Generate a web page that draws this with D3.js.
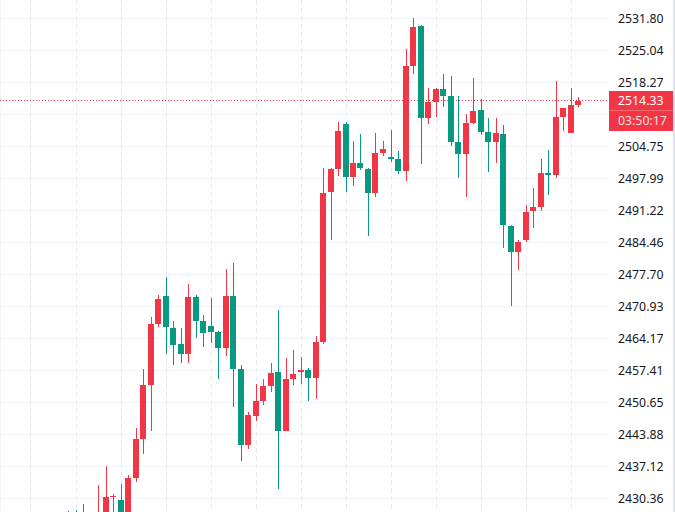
<!DOCTYPE html>
<html>
<head>
<meta charset="utf-8">
<script src="https://cdn.jsdelivr.net/npm/d3@7/dist/d3.min.js"></script>
<style>
  html, body { margin: 0; padding: 0; background: #ffffff; }
  svg { display: block; }
  text { font-family: "Noto Sans", "Open Sans", sans-serif; }
</style>
</head>
<body>
<svg id="chart" width="675" height="512"></svg>
<script>
// ---- data (bars are consecutive periods, oldest first) ----
const opens = [2424.72,2427.04,2426.83,2424.51,2424.93,2426.20,2430.63,2430.00,2426.83,2434.65,
  2442.89,2454.30,2467.19,2473.11,2466.35,2462.97,2460.85,2472.90,2467.83,2466.77,
  2465.50,2462.12,2473.11,2457.68,2441.62,2447.75,2450.92,2454.09,2457.05,2444.58,
  2455.57,2457.05,2457.47,2455.78,2463.39,2495.09,2499.95,2509.46,2498.26,2501.22,
  2499.95,2494.88,2503.33,2502.49,2502.07,2499.53,2521.72,2530.17,2510.73,2514.11,
  2516.86,2515.38,2505.66,2503.12,2509.67,2512.42,2507.77,2505.66,2507.35,2487.91,
  2482.41,2484.95,2491.08,2491.92,2499.11,2498.68,2510.94,2507.56,2513.48];
const highs = [2427.68,2427.89,2429.16,2427.25,2433.17,2437.19,2431.27,2433.38,2435.28,2445.22,
  2457.68,2468.67,2473.32,2477.13,2467.83,2466.35,2475.65,2473.32,2469.10,2472.69,
  2465.72,2478.82,2480.09,2458.53,2448.60,2454.51,2455.57,2458.95,2470.15,2460.01,
  2461.70,2460.22,2457.90,2464.66,2500.16,2500.16,2509.88,2509.88,2505.87,2507.35,
  2500.16,2507.56,2505.87,2508.19,2503.76,2525.31,2531.86,2530.38,2517.07,2517.07,
  2520.03,2519.61,2515.38,2511.57,2519.18,2514.74,2510.73,2510.73,2509.25,2488.12,
  2484.95,2492.34,2495.94,2502.07,2503.97,2518.55,2512.84,2517.07,2515.17];
const lows = [2423.66,2424.08,2423.66,2423.24,2424.08,2425.35,2426.62,2425.77,2425.99,2433.80,
  2439.72,2444.58,2466.56,2460.85,2458.53,2458.95,2458.95,2464.24,2462.33,2463.18,
  2455.57,2460.43,2449.65,2438.24,2440.78,2446.70,2450.08,2452.82,2432.33,2444.58,
  2454.30,2454.51,2450.92,2451.35,2462.97,2484.95,2498.47,2495.09,2496.36,2499.74,
  2485.79,2494.03,2502.70,2501.43,2498.90,2497.42,2520.03,2501.01,2509.46,2510.94,
  2513.05,2504.81,2498.05,2494.03,2509.46,2507.14,2499.32,2501.22,2483.26,2471.00,
  2478.61,2484.52,2487.48,2491.08,2494.46,2498.05,2507.98,2507.56,2513.05];
const closes = [2426.62,2425.35,2424.93,2426.20,2427.04,2430.63,2430.85,2426.41,2434.65,2442.89,
  2454.30,2467.19,2472.48,2466.56,2462.76,2460.85,2472.90,2467.83,2465.29,2465.50,
  2462.12,2473.11,2457.68,2441.62,2447.96,2450.92,2454.09,2456.84,2444.58,2455.57,
  2456.63,2457.47,2455.78,2463.39,2494.88,2499.95,2507.98,2498.26,2501.22,2500.16,
  2494.88,2503.33,2504.18,2502.07,2499.53,2521.72,2529.96,2510.73,2514.11,2516.86,
  2515.38,2505.66,2503.12,2509.67,2512.21,2507.77,2505.66,2507.56,2488.12,2482.41,
  2484.52,2490.86,2491.92,2499.11,2498.68,2510.94,2512.84,2513.48,2514.33];

const priceTicks = [2531.80,2525.04,2518.27,2511.51,2504.75,2497.99,2491.22,2484.46,
  2477.70,2470.93,2464.17,2457.41,2450.65,2443.88,2437.12,2430.36];
const timeGridBars = [-5,1,7,13,19,25,31,37,43,49,55,61,67]; // bar indices of vertical grid lines
const lastPrice = 2514.33;
const countdown = "03:50:17";

// ---- layout ----
const W = 675, H = 512;
const paneRight = 608;
const UP = "#F23645", DOWN = "#089981";

const svg = d3.select("#chart");
const x = d3.scaleLinear().domain([0, opens.length - 1]).range([68.5, 578.5]);
const y = d3.scaleLinear().domain([priceTicks[priceTicks.length - 1], priceTicks[0]]).range([498.5, 18.5]);

const bars = opens.map((o, i) => ({ i, o, h: highs[i], l: lows[i], c: closes[i] }));

// clip for pane
svg.append("defs").append("clipPath").attr("id", "pane")
  .append("rect").attr("x", 0).attr("y", 0).attr("width", paneRight).attr("height", H);

const grid = svg.append("g");
// horizontal grid
grid.selectAll("line.h").data(priceTicks).join("line")
  .attr("x1", 0).attr("x2", paneRight)
  .attr("y1", d => Math.round(y(d) - 0.5) + 0.5).attr("y2", d => Math.round(y(d) - 0.5) + 0.5)
  .attr("stroke", "#F0F3FA").attr("stroke-width", 1);
// vertical dashed grid
grid.selectAll("line.v").data(timeGridBars).join("line")
  .attr("x1", d => Math.floor(x(d)) + 0.5).attr("x2", d => Math.floor(x(d)) + 0.5)
  .attr("y1", 0).attr("y2", H)
  .attr("stroke", "#E8EAF0").attr("stroke-width", 1)
  .attr("stroke-dasharray", "5,3");

// left frame line
svg.append("line").attr("x1", 0.5).attr("x2", 0.5).attr("y1", 0).attr("y2", H)
  .attr("stroke", "#F0F3FA");

// last price dotted line
const yLast = Math.round(y(lastPrice)) - 0.5;
svg.append("line").attr("x1", 0).attr("x2", paneRight).attr("y1", yLast).attr("y2", yLast)
  .attr("stroke", UP).attr("stroke-width", 1).attr("stroke-dasharray", "1,2");

// candles
const cg = svg.append("g").attr("clip-path", "url(#pane)");
const left = d => Math.floor(x(d.i) - 3);
const col = d => (d.c >= d.o ? UP : DOWN);
cg.selectAll("rect.wick").data(bars).join("rect")
  .attr("x", d => left(d) + 3)
  .attr("y", d => Math.round(y(d.h)))
  .attr("width", 1)
  .attr("height", d => Math.max(1, Math.round(y(d.l)) - Math.round(y(d.h))))
  .attr("fill", col);
cg.selectAll("rect.body").data(bars).join("rect")
  .attr("x", d => left(d))
  .attr("y", d => Math.round(y(Math.max(d.o, d.c))))
  .attr("width", 6)
  .attr("height", d => Math.max(1, Math.round(y(Math.min(d.o, d.c))) - Math.round(y(Math.max(d.o, d.c)))))
  .attr("fill", col);

// last price label box geometry
const boxTop = Math.round(y(lastPrice)) - 10;
const boxBottom = boxTop + 40;

// price axis labels (labels hidden behind the last-price box are skipped, as in the original)
svg.append("g").selectAll("text")
  .data(priceTicks.filter(d => y(d) + 7 < boxTop || y(d) - 7 > boxBottom))
  .join("text")
  .attr("x", 618).attr("y", d => y(d))
  .attr("dy", "0.35em")
  .attr("font-size", 12.3).attr("fill", "#131722")
  .text(d => d.toFixed(2));

svg.append("rect").attr("x", 609).attr("y", boxTop).attr("width", 64).attr("height", 40)
  .attr("fill", UP);
svg.append("line").attr("x1", 609).attr("x2", 673).attr("y1", boxTop + 19.5).attr("y2", boxTop + 19.5)
  .attr("stroke", "#ffffff").attr("stroke-opacity", 0.25);
svg.append("text").attr("x", 618).attr("y", boxTop + 10).attr("dy", "0.35em")
  .attr("font-size", 12.3).attr("fill", "#ffffff").text(lastPrice.toFixed(2));
svg.append("text").attr("x", 618).attr("y", boxTop + 30).attr("dy", "0.35em")
  .attr("font-size", 12.3).attr("fill", "#ffffff").attr("fill-opacity", 0.85).text(countdown);

// right edge border
svg.append("rect").attr("x", 673).attr("y", 0).attr("width", 2).attr("height", H).attr("fill", "#E0E3EB");
</script>
</body>
</html>
